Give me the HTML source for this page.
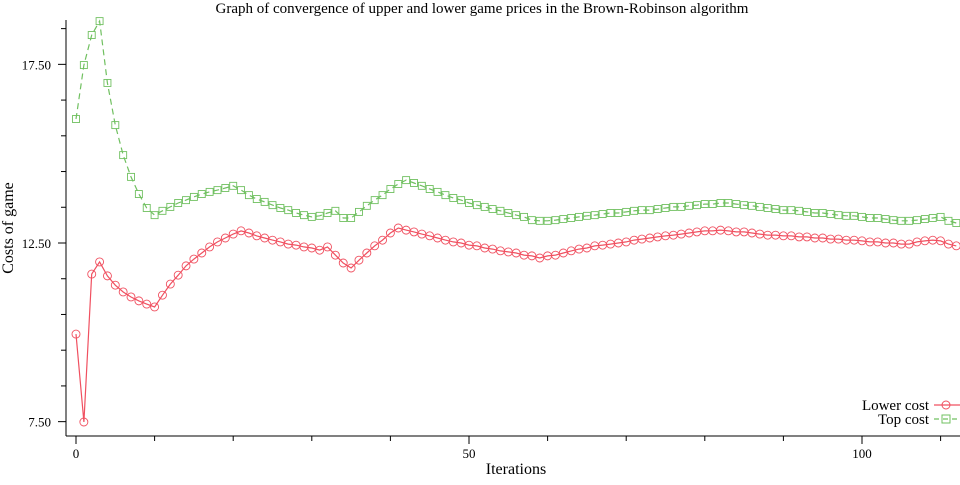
<!DOCTYPE html>
<html><head><meta charset="utf-8"><style>
body{margin:0;background:#fff}
svg text{font-family:"Liberation Serif",serif;fill:#000}
</style></head><body>
<svg id="chart" width="960" height="480" viewBox="0 0 960 480" xmlns="http://www.w3.org/2000/svg">
<text x="482" y="13" font-size="15" text-anchor="middle">Graph of convergence of upper and lower game prices in the Brown-Robinson algorithm</text>
<text transform="translate(13,228) rotate(-90)" font-size="16" text-anchor="middle">Costs of game</text>
<text x="516" y="474" font-size="16" text-anchor="middle">Iterations</text>
<g id="axes"></g>
<g id="series"></g>
<g id="legend">
<text x="929" y="410" font-size="15" text-anchor="end">Lower cost</text>
<line x1="934" y1="405" x2="960" y2="405" stroke="#f05060" stroke-width="1.2"/>
<circle cx="946" cy="405" r="4" fill="none" stroke="#f05060"/>
<text x="929" y="424" font-size="15" text-anchor="end">Top cost</text>
<line x1="934" y1="419" x2="960" y2="419" stroke="#70c060" stroke-width="1.2" stroke-dasharray="5,4"/>
<rect x="942" y="415" width="8" height="8" fill="none" stroke="#70c060"/>
</g>
</svg>
<script>
const topCost=[15.97,17.48,18.32,18.71,16.98,15.80,14.96,14.35,13.87,13.48,13.28,13.40,13.51,13.62,13.70,13.79,13.87,13.93,13.98,14.04,14.10,13.98,13.84,13.73,13.65,13.56,13.48,13.42,13.34,13.28,13.23,13.26,13.34,13.40,13.20,13.20,13.37,13.54,13.70,13.84,14.01,14.15,14.26,14.18,14.10,14.01,13.93,13.84,13.76,13.70,13.62,13.56,13.51,13.45,13.40,13.34,13.28,13.23,13.14,13.12,13.12,13.14,13.17,13.20,13.23,13.26,13.28,13.31,13.34,13.34,13.37,13.40,13.42,13.42,13.45,13.48,13.51,13.51,13.54,13.56,13.59,13.59,13.62,13.62,13.59,13.56,13.54,13.51,13.48,13.45,13.42,13.42,13.40,13.37,13.34,13.34,13.31,13.28,13.26,13.26,13.23,13.20,13.20,13.17,13.14,13.12,13.12,13.14,13.17,13.20,13.23,13.12,13.06];
const lowerCost=[9.95,7.49,11.63,11.97,11.58,11.32,11.13,10.99,10.88,10.79,10.71,11.04,11.35,11.60,11.86,12.05,12.22,12.39,12.53,12.64,12.75,12.84,12.78,12.70,12.64,12.58,12.53,12.47,12.44,12.39,12.36,12.30,12.39,12.16,11.94,11.80,12.02,12.22,12.42,12.58,12.78,12.92,12.86,12.81,12.75,12.70,12.64,12.58,12.53,12.50,12.44,12.42,12.36,12.33,12.28,12.25,12.22,12.16,12.14,12.08,12.14,12.16,12.22,12.28,12.33,12.36,12.42,12.44,12.47,12.50,12.53,12.58,12.61,12.64,12.67,12.70,12.72,12.75,12.78,12.81,12.84,12.84,12.86,12.84,12.81,12.81,12.78,12.75,12.72,12.72,12.70,12.70,12.67,12.67,12.64,12.64,12.61,12.61,12.58,12.58,12.56,12.53,12.53,12.50,12.50,12.47,12.47,12.53,12.56,12.58,12.56,12.47,12.42];
const xTickLabels=[0,50,100];
const yTickLabels=[7.5,12.5,17.5];
const NS="http://www.w3.org/2000/svg";
function xs(i){return 76+(i/50)*393;}
function ys(v){return 243-(v-12.5)*35.73;}
function mk(tag,attrs,parent){const e=document.createElementNS(NS,tag);for(const k in attrs)e.setAttribute(k,attrs[k]);parent.appendChild(e);return e;}
const axes=document.getElementById('axes');
const yAxis=mk('line',{x1:66,y1:20,x2:66,y2:436,stroke:'#000'},axes);


const xAxis=mk('line',{x1:66,y1:436,x2:960,y2:436,stroke:'#000'},axes);


for(let v=7.5;v<=18.6;v+=1){const major=yTickLabels.some(t=>Math.abs(t-v)<1e-6);const t=mk('line',{x1:major?58:61,y1:ys(v),x2:66,y2:ys(v),stroke:'#000'},axes);

}
yTickLabels.forEach(v=>{const t=mk('text',{x:51,y:ys(v)+5,'font-size':13,'text-anchor':'end'},axes);t.textContent=v.toFixed(2);

});
for(let i=0;i<=110;i+=10){const major=xTickLabels.includes(i);const t=mk('line',{x1:xs(i),y1:436,x2:xs(i),y2:major?444:441,stroke:'#000'},axes);

}
xTickLabels.forEach(v=>{const t=mk('text',{x:xs(v),y:458,'font-size':13,'text-anchor':'middle'},axes);t.textContent=v;

});
const ser=document.getElementById('series');
function draw(data,color,dash,name,shape){
 const pts=data.map((v,i)=>xs(i).toFixed(1)+','+ys(v).toFixed(1)).join(' ');
 const pl=mk('polyline',{points:pts,fill:'none',stroke:color,'stroke-width':1.2,'stroke-dasharray':dash},ser);
 
 
 data.forEach((v,i)=>{let m;
  if(shape==='c')m=mk('circle',{cx:xs(i),cy:ys(v),r:4,fill:'none',stroke:color,'stroke-width':0.9},ser);
  else m=mk('rect',{x:xs(i)-3.5,y:ys(v)-3.5,width:7,height:7,fill:'none',stroke:color,'stroke-width':0.9},ser);
  
  });
}
draw(topCost,'#70c060','6,4','top-cost','s');
draw(lowerCost,'#f05060','none','lower-cost','c');
</script>
</body></html>
